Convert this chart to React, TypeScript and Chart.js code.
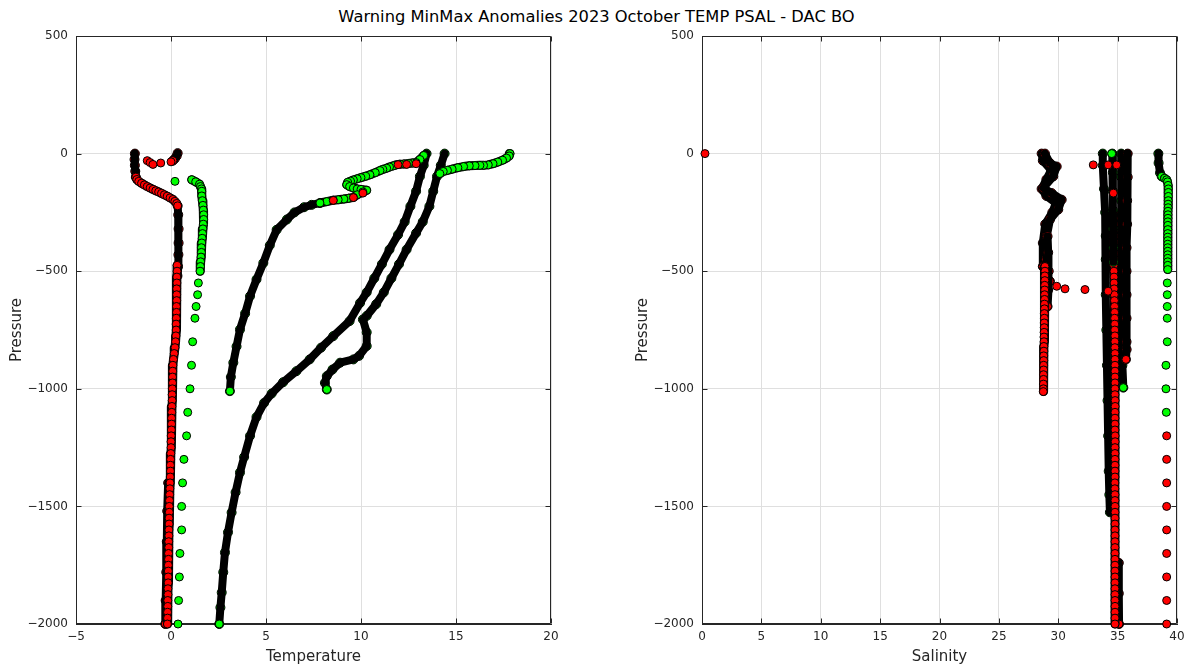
import React, { useEffect, useRef } from "react";
import { Chart, registerables } from "chart.js";
Chart.register(...registerables);

// ---------------- axes ----------------
const tempTicks = [-5, 0, 5, 10, 15, 20];
const salTicks = [0, 5, 10, 15, 20, 25, 30, 35, 40];
const presTicks = [-2000, -1500, -1000, -500, 0, 500];

const GREEN = "#00ff00";
const RED = "#ff0000";

// ---------------- TEMPERATURE panel ----------------
// cold surface profile (dense, red flagged)
const tL1a = [-1.9, -1.92, -1.9, -1.88, -1.85];
const pL1a = [0, -25, -50, -75, -100];
const tL1b = [-1.85, -1.8, -1.7, -1.55, -1.4, -1.25, -1.1, -0.95, -0.8, -0.65, -0.5, -0.35, -0.2, -0.05, 0.1, 0.2, 0.3, 0.35];
const pL1b = [-100, -110, -118, -126, -133, -140, -146, -152, -158, -163, -169, -175, -181, -188, -195, -203, -212, -222];
const tL1c = [0.35, 0.38, 0.4, 0.4, 0.39, 0.37, 0.34];
const pL1c = [-222, -260, -320, -380, -430, -480, -520];
const tL1d = [0.32, 0.32, 0.31, 0.31, 0.3, 0.3, 0.3, 0.29, 0.29, 0.28,
  0.27, 0.27, 0.26, 0.24, 0.21, 0.17, 0.13, 0.1, 0.09, 0.08,
  0.08, 0.07, 0.06, 0.06, 0.05, 0.04, 0.03, 0.03, 0.02, 0.01,
  0.0, 0.0, -0.01, -0.02, -0.03, -0.03, -0.04, -0.05, -0.06, -0.07,
  -0.08, -0.09, -0.09, -0.1, -0.1, -0.11, -0.11, -0.12, -0.12, -0.13,
  -0.13, -0.14, -0.14, -0.15, -0.15, -0.16, -0.16, -0.17, -0.17, -0.18,
  -0.18, -0.19];
const pL1d = [-475, -500, -525, -550, -575, -600, -625, -650, -675, -700,
  -725, -750, -775, -800, -825, -850, -875, -900, -925, -950,
  -975, -1000, -1025, -1050, -1075, -1100, -1125, -1150, -1175, -1200,
  -1225, -1250, -1275, -1300, -1325, -1350, -1375, -1400, -1425, -1450,
  -1475, -1500, -1525, -1550, -1575, -1600, -1625, -1650, -1675, -1700,
  -1725, -1750, -1775, -1800, -1825, -1850, -1875, -1900, -1925, -1950,
  -1975, -2000];
const tL1e = [-0.15, -0.2, -0.22, -0.25, -0.28, -0.3];
const pL1e = [-1400, -1520, -1650, -1780, -1900, -2000];
const tL2 = [0.35, 0.3, 0.2, 0.1];
const pL2 = [2, -10, -22, -30];
const tL3 = [-1.25, -1.1, -0.95, -0.54, 0.0];
const pL3 = [-30, -38, -46, -40, -35];
// column right of the cold profile (green)
const tL4a = [1.09, 1.3, 1.5, 1.55, 1.6, 1.62, 1.62, 1.65, 1.68, 1.7, 1.72, 1.72, 1.7, 1.68, 1.66, 1.64, 1.62, 1.6, 1.6, 1.58, 1.56, 1.55, 1.53];
const pL4a = [-111, -120, -130, -140, -150, -160, -180, -200, -220, -240, -260, -280, -300, -320, -340, -360, -380, -400, -420, -440, -460, -480, -500];
const tL4b = [0.21, 1.44, 1.4, 1.32, 1.26, 1.14, 1.08, 1.0, 0.88, 0.82, 0.68, 0.61, 0.56, 0.56, 0.47, 0.44, 0.4, 0.37];
const pL4b = [-118, -550, -600, -650, -700, -800, -900, -1000, -1100, -1200, -1300, -1400, -1500, -1600, -1700, -1800, -1900, -2000];
// long warm profile to 2000 dbar
const tT1 = [13.45, 13.3, 13.1, 12.9, 12.6, 12.3, 11.95, 11.5, 11.1, 10.7, 10.3, 9.95, 9.4, 8.54, 7.9, 7.3, 6.6, 5.9, 5.3, 4.9, 4.5, 4.16, 3.85, 3.63, 3.4, 3.19, 3.0, 2.84, 2.75, 2.67, 2.6, 2.54];
const pT1 = [0, -50, -97, -160, -224, -290, -345, -408, -470, -530, -590, -635, -712, -776, -825, -875, -925, -972, -1020, -1060, -1120, -1200, -1290, -1356, -1440, -1526, -1610, -1696, -1780, -1866, -1930, -2000];
// profile with the hook near 900 dbar
const tT2 = [14.4, 14.2, 14.0, 13.8, 13.6, 13.25, 12.9, 12.4, 12.0, 11.6, 11.2, 10.8, 10.3, 10.1, 10.3, 10.3, 9.9, 9.6, 8.9, 8.5, 8.2, 8.1, 8.2];
const pT2 = [0, -50, -97, -160, -224, -290, -338, -408, -470, -530, -590, -640, -690, -705, -760, -818, -860, -875, -889, -918, -946, -975, -1003];
// warm surface layer joining the columns
const tT3 = [17.84, 17.8, 17.66, 17.45, 17.2, 16.95, 16.7, 16.45, 16.26, 16.0, 15.7, 15.4, 15.1, 14.8, 14.55, 14.33, 14.15];
const pT3 = [0, -10, -19, -28, -36, -43, -48, -50, -50, -51, -52, -55, -60, -66, -71, -76, -85];
// profile ending at 1000 dbar near 3 degrees
const tT4a = [13.3, 13.1, 12.9, 12.7, 12.5, 12.25, 12.05, 11.85, 11.7, 11.5, 11.35, 11.15, 11.0, 10.75, 10.47, 10.25, 10.0, 9.8, 9.6, 9.45, 9.3, 9.25, 9.4, 9.6, 9.8, 10.0, 10.3, 10.1, 9.8, 9.6, 9.35, 9.1, 8.8, 8.54, 8.2, 7.84];
const pT4a = [-8, -25, -38, -40, -42, -44, -45, -48, -52, -57, -62, -67, -72, -81, -90, -96, -102, -107, -112, -117, -122, -132, -140, -146, -150, -152, -156, -163, -175, -186, -190, -193, -196, -198, -204, -210];
const tT4b = [7.84, 7.4, 7.0, 6.5, 6.1, 5.56, 5.2, 4.86, 4.5, 4.16, 3.9, 3.63, 3.45, 3.28, 3.15, 3.1];
const pT4b = [-210, -218, -228, -250, -280, -324, -390, -465, -535, -606, -680, -748, -820, -889, -950, -1010];
const tT4r = [11.95, 12.4, 12.9, 8.54, 9.6, 10.1];
const pT4r = [-47, -46, -43, -199, -187, -168];

// ---------------- SALINITY panel ----------------
const sR0 = [0.25];
const pR0 = [0];
const sS1a = [28.88, 29.3, 29.87, 29.58, 28.74, 29.45, 30.29, 30.0, 29.3, 29.03, 29.0, 29.05, 29.3];
const pS1a = [0, -40, -55, -97, -146, -168, -196, -238, -281, -352, -450, -520, -543];
const sS1d = [28.6, 28.7, 29.4, 29.0, 28.6, 29.0, 29.8, 29.5, 28.9, 28.7, 28.7];
const pS1d = [0, -30, -70, -110, -150, -180, -210, -250, -300, -380, -480];
const sS1c = [29.1, 29.15, 29.2, 29.15, 29.1];
const pS1c = [-352, -420, -500, -580, -650];
const sS1br = [29.87, 30.57, 32.25, 34.2];
const pS1br = [-564, -575, -578, -585];
const sS1b = [28.88, 28.88, 28.87, 28.87, 28.86, 28.86, 28.85, 28.85, 28.84, 28.84,
  28.83, 28.83, 28.82, 28.82, 28.81, 28.8, 28.8, 28.79, 28.79, 28.78,
  28.78, 28.77, 28.77, 28.76, 28.76, 28.75, 28.75, 28.74];
const pS1b = [-480, -500, -520, -540, -560, -580, -600, -620, -640, -660,
  -680, -700, -720, -740, -760, -780, -800, -820, -840, -860,
  -880, -900, -920, -940, -960, -980, -1000, -1012];
const sS2a = [33.75, 33.75, 33.85, 33.95, 34.0, 34.0, 34.0, 34.05, 34.1, 34.15, 34.2, 34.25, 34.3, 34.35];
const pS2a = [0, -50, -150, -250, -350, -450, -600, -750, -900, -1050, -1200, -1350, -1450, -1525];
const sS2f = [34.55, 34.6, 34.6, 34.6, 34.62, 34.64, 34.65];
const pS2f = [0, -80, -160, -240, -320, -400, -460];
const sS2r = [34.62, 34.63, 34.64, 34.64, 34.65, 34.65, 34.66, 34.66, 34.67, 34.68,
  34.69, 34.7, 34.7, 34.71, 34.72, 34.73, 34.74, 34.75, 34.75, 34.76,
  34.76, 34.77, 34.77, 34.77, 34.78, 34.78, 34.78, 34.78, 34.78, 34.78,
  34.78, 34.78, 34.79, 34.79, 34.78, 34.78, 34.78, 34.78, 34.79, 34.79,
  34.78, 34.78, 34.78, 34.78, 34.78, 34.78, 34.77, 34.77, 34.78, 34.78,
  34.78, 34.78, 34.78, 34.78, 34.78, 34.78, 34.78, 34.78, 34.78, 34.78,
  34.78, 34.78, 34.78, 34.78, 34.78, 34.78, 34.78, 34.78, 34.78, 34.78,
  34.78];
const pS2r = [-250, -275, -300, -325, -350, -375, -400, -425, -450, -475,
  -500, -525, -550, -575, -600, -625, -650, -675, -700, -725,
  -750, -775, -800, -825, -850, -875, -900, -925, -950, -975,
  -1000, -1025, -1050, -1075, -1100, -1125, -1150, -1175, -1200, -1225,
  -1250, -1275, -1300, -1325, -1350, -1375, -1400, -1425, -1450, -1475,
  -1500, -1525, -1550, -1575, -1600, -1625, -1650, -1675, -1700, -1725,
  -1750, -1775, -1800, -1825, -1850, -1875, -1900, -1925, -1950, -1975,
  -2000];
const sS2c = [35.3, 35.3, 35.3, 35.3, 35.3, 35.3, 35.3, 35.32, 35.35, 35.4, 35.48];
const pS2c = [0, -100, -200, -300, -400, -500, -600, -700, -800, -900, -995];
const sS2d = [35.85, 35.85, 35.8, 35.8, 35.75, 35.75, 35.75, 35.75, 35.75, 35.76, 35.7];
const pS2d = [0, -100, -200, -300, -400, -500, -600, -700, -800, -833, -875];
const sS2e = [35.1, 35.1, 35.12];
const pS2e = [-1740, -1870, -2000];
const sS2t = [32.95, 34.2, 34.92, 34.64];
const pS2t = [-48, -48, -48, -168];
const sS2g = [34.5];
const pS2g = [0];
const sS3a = [38.43, 38.45, 38.57, 38.71];
const pS3a = [0, -40, -82, -97];
const sS3b = [38.95, 39.13, 39.2, 39.25, 39.27, 39.27, 39.27, 39.26, 39.25, 39.25, 39.24, 39.24, 39.24, 39.23, 39.23, 39.23, 39.22, 39.22, 39.22, 39.22, 39.22, 39.22, 39.22, 39.22, 39.22, 39.22, 39.22];
const pS3b = [-105, -111, -120, -135, -150, -165, -182, -200, -215, -230, -245, -260, -275, -290, -305, -323, -340, -355, -370, -385, -400, -415, -430, -445, -460, -475, -493];
const sS3c = [39.18, 39.18, 39.18, 39.18, 39.18, 39.07, 39.07, 39.1];
const pS3c = [-550, -600, -650, -700, -800, -900, -1000, -1100];
const sS3d = [39.13, 39.13, 39.13, 39.13, 39.13, 39.13, 39.13, 39.13, 39.13];
const pS3d = [-1200, -1300, -1400, -1500, -1600, -1700, -1800, -1900, -2000];

// ---------------- helpers ----------------
const FONT = "'DejaVu Sans', sans-serif";
const INK = "#262626";

const pts = (x: number[], y: number[]) => x.map((v, i) => ({ x: v, y: y[i] }));

function dots(x: number[], y: number[], fill: string): any[] {
  return [{
    data: pts(x, y), showLine: false, pointStyle: "circle", pointRadius: 4,
    pointBackgroundColor: fill, pointBorderColor: "#000", pointBorderWidth: 1, clip: false,
  }];
}
function chain(x: number[], y: number[], fill: string): any[] {
  return [{
    data: pts(x, y), showLine: true, borderColor: "#000", borderWidth: 9, tension: 0,
    borderJoinStyle: "round", borderCapStyle: "round",
    pointStyle: "circle", pointRadius: 4, pointBackgroundColor: fill,
    pointBorderColor: "#000", pointBorderWidth: 1, clip: false,
  }];
}
function band(x: number[], y: number[], fill: string, end = true): any[] {
  const d = pts(x, y);
  const out: any[] = [
    { data: d, showLine: false, pointStyle: "circle", pointRadius: 4.5, pointBackgroundColor: fill,
      pointBorderColor: "#000", pointBorderWidth: 1, clip: false },
    { data: d, showLine: true, borderColor: "#000", borderWidth: 8, tension: 0, pointRadius: 0,
      borderJoinStyle: "round", borderCapStyle: "round", clip: false },
  ];
  if (end) {
    out.push({ data: [d[d.length - 1]], showLine: false, pointStyle: "circle", pointRadius: 4,
      pointBackgroundColor: fill, pointBorderColor: "#000", pointBorderWidth: 1, clip: false });
  }
  return out;
}
function ordered(list: any[][]): any[] {
  const flat = list.flat();
  const n = flat.length;
  return flat.map((d, i) => ({ ...d, order: n - i }));
}

const leftData = ordered([
  band(tL1a, pL1a, RED), band(tL1c, pL1c, RED), band(tL1e, pL1e, RED), band(tL2, pL2, RED),
  band(tT1, pT1, GREEN), band(tT2, pT2, GREEN), band(tT4b, pT4b, GREEN),
  chain(tL1d, pL1d, RED), chain(tL1b, pL1b, RED), chain(tL4a, pL4a, GREEN),
  chain(tT3, pT3, GREEN), chain(tT4a, pT4a, GREEN),
  dots(tL4b, pL4b, GREEN), dots(tL3, pL3, RED), dots(tT4r, pT4r, RED),
]);

const rightData = ordered([
  band(sS1d, pS1d, RED), band(sS1a, pS1a, RED), band(sS1c, pS1c, RED),
  band(sS2a, pS2a, GREEN, false), band(sS2c, pS2c, GREEN), band(sS2d, pS2d, RED),
  band(sS2e, pS2e, RED), band(sS3a, pS3a, GREEN),
  chain(sS1b, pS1b, RED), chain(sS2r, pS2r, RED),
  band(sS2f, pS2f, GREEN, false),
  chain(sS3b, pS3b, GREEN),
  dots(sS3c, pS3c, GREEN), dots(sS3d, pS3d, RED), dots(sS1br, pS1br, RED),
  dots(sS2t, pS2t, RED), dots(sS2g, pS2g, GREEN), dots(sR0, pR0, RED),
]);

const minus = (v: any) => String(v).replace("-", "\u2212");

const framePlugin = {
  id: "frame",
  beforeDatasetsDraw(chart: any) {
    const { ctx, chartArea: a, scales } = chart;
    const L = Math.round(a.left) + 0.5, R = Math.round(a.right) - 0.5;
    const T = Math.round(a.top) + 0.5, B = Math.round(a.bottom) - 0.5;
    ctx.save();
    ctx.strokeStyle = INK;
    ctx.lineWidth = 1;
    ctx.beginPath();
    ctx.moveTo(L, T); ctx.lineTo(R, T); ctx.lineTo(R, B); ctx.lineTo(L, B); ctx.closePath();
    scales.x.ticks.forEach((t: any) => {
      const px = Math.round(scales.x.getPixelForValue(t.value)) + 0.5;
      ctx.moveTo(px, B); ctx.lineTo(px, B - 5);
      ctx.moveTo(px, T); ctx.lineTo(px, T + 5);
    });
    scales.y.ticks.forEach((t: any) => {
      const py = Math.round(scales.y.getPixelForValue(t.value)) + 0.5;
      ctx.moveTo(L, py); ctx.lineTo(L + 5, py);
      ctx.moveTo(R, py); ctx.lineTo(R - 5, py);
    });
    ctx.stroke();
    ctx.restore();
  },
};

type PanelProps = {
  left: number; width: number; datasets: any[]; xTicks: number[]; xLabel: string;
  yW: number; padRight: number; yTitlePad: number;
};

function Panel(p: PanelProps) {
  const ref = useRef<HTMLCanvasElement>(null);
  useEffect(() => {
    const chart = new Chart(ref.current as HTMLCanvasElement, {
      type: "scatter",
      data: { datasets: p.datasets },
      options: {
        animation: false,
        responsive: false,
        devicePixelRatio: 1,
        events: [],
        layout: { padding: { top: 36, right: p.padRight, bottom: 0, left: 0 } },
        plugins: { legend: { display: false }, tooltip: { enabled: false }, title: { display: false } },
        scales: {
          x: {
            type: "linear",
            min: p.xTicks[0], max: p.xTicks[p.xTicks.length - 1],
            ticks: { stepSize: 5, padding: 6, color: INK, font: { family: FONT, size: 12 }, callback: minus, maxRotation: 0 },
            grid: { color: "#dfdfdf", drawTicks: false },
            border: { color: INK, width: 1 },
            title: { display: true, text: p.xLabel, color: INK, font: { family: FONT, size: 15 }, padding: { top: 0, bottom: 3 } },
            afterFit: (s: any) => { s.height = 45; },
          },
          y: {
            type: "linear",
            min: presTicks[0], max: presTicks[presTicks.length - 1],
            ticks: { stepSize: 500, padding: 8, color: INK, font: { family: FONT, size: 12 }, callback: minus },
            grid: { color: "#dfdfdf", drawTicks: false },
            border: { color: INK, width: 1 },
            title: { display: true, text: "Pressure", color: INK, font: { family: FONT, size: 15 }, padding: { top: p.yTitlePad, bottom: 0 } },
            afterFit: (s: any) => { s.width = p.yW; },
          },
        },
      } as any,
      plugins: [framePlugin],
    } as any);
    return () => chart.destroy();
  }, []);
  return (
    <canvas ref={ref} width={p.width} height={669}
      style={{ position: "absolute", left: p.left, top: 0, width: p.width, height: 669 }} />
  );
}

export default function App() {
  return (
    <div style={{ position: "absolute", left: 0, top: 0, width: 1193, height: 669, background: "#fff", overflow: "hidden" }}>
      <div style={{
        position: "absolute", left: 0, top: 7, width: 1193, textAlign: "center",
        fontFamily: FONT, fontSize: 16.3, lineHeight: "20px", color: "#000",
      }}>
        Warning MinMax Anomalies 2023 October TEMP PSAL - DAC BO
      </div>
      <Panel left={0} width={596} datasets={leftData} xTicks={tempTicks} xLabel="Temperature"
        yW={76} padRight={45} yTitlePad={8} />
      <Panel left={596} width={597} datasets={rightData} xTicks={salTicks} xLabel="Salinity"
        yW={106} padRight={597 - 581} yTitlePad={38} />
    </div>
  );
}
